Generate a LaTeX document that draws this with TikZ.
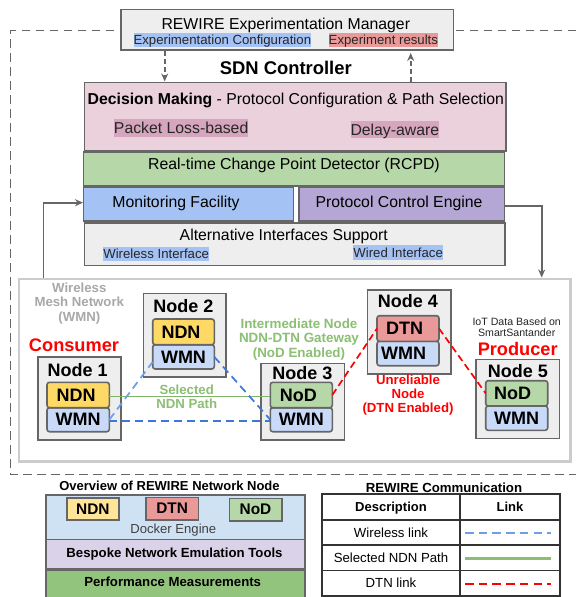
\documentclass[tikz,border=0pt]{standalone}
\usepackage{fontspec}
\usetikzlibrary{arrows.meta}
\setmainfont{Liberation Sans}
\definecolor{edge}{HTML}{666666}
\definecolor{lgray}{HTML}{EEEEEE}
\definecolor{hblue}{HTML}{A4C2F4}
\definecolor{hred}{HTML}{EA9999}
\definecolor{pinkb}{HTML}{EAD1DC}
\definecolor{pinkh}{HTML}{D5A6BD}
\definecolor{greenb}{HTML}{B6D7A8}
\definecolor{purpleb}{HTML}{B4A7D6}
\definecolor{wmnb}{HTML}{C9DAF8}
\definecolor{ndnb}{HTML}{FFD966}
\definecolor{ndns}{HTML}{FFE599}
\definecolor{dockerb}{HTML}{CFE2F3}
\definecolor{besp}{HTML}{D9D2E9}
\definecolor{perf}{HTML}{93C47D}
\definecolor{lblue}{HTML}{3C78D8}
\definecolor{lgreen}{HTML}{6AA84F}
\definecolor{lgrn}{HTML}{8BBF73}
\definecolor{lbl}{HTML}{6D9EEB}
\definecolor{txtg}{HTML}{A8A8A8}
\newcommand{\fs}[1]{\fontsize{#1}{#1}\selectfont}
% style, name, x1, y1, x2, y2, text
\newcommand{\bx}[7]{%
  \pgfmathsetmacro{\bw}{#5-#3}\pgfmathsetmacro{\bh}{#6-#4}%
  \pgfmathsetmacro{\bcx}{(#3+#5)/2}\pgfmathsetmacro{\bcy}{(#4+#6)/2}%
  \node[#1,minimum width=\bw pt,minimum height=\bh pt] (#2) at (\bcx,\bcy) {#7};}
\tikzset{
  x=1pt,y=-1pt,
  panel/.style={draw=edge,line width=1.6pt,inner sep=0pt,outer sep=0pt,font=\fs{15.8}},
  hl/.style={inner sep=0pt,outer sep=0pt,text=black!85,font=\fs{13.2},text height=11.2pt,text depth=2pt},
  hlbig/.style={inner sep=0pt,outer sep=0pt,text=black!85,font=\fs{15.8},text height=13.2pt,text depth=2pt},
  innerbox/.style={draw=edge,line width=1.6pt,rounded corners=2.5pt,inner sep=0pt,outer sep=0pt,font=\fs{18}\bfseries},
  nodebox/.style={draw=edge,line width=1.6pt,fill=lgray,inner sep=0pt,outer sep=0pt},
  nodelabel/.style={inner sep=0pt,font=\fs{18}\bfseries},
  manarrow/.style={draw=edge,line width=1.6pt,dash pattern=on 5pt off 3pt,-{Stealth[length=8pt,width=7pt]}},
  solidarrow/.style={draw=edge,line width=1.6pt,-{Stealth[length=8pt,width=7pt]}},
  wlink/.style={draw=lblue,line width=1.7pt,dash pattern=on 8pt off 5pt},
  dlink/.style={draw=red,line width=1.7pt,dash pattern=on 7pt off 4pt},
  slink/.style={draw=lgreen!85,line width=1.5pt},
  outerframe/.style={draw=edge,line width=1.5pt,dash pattern=on 8.5pt off 5.5pt},
  capt/.style={inner sep=0pt,align=center},
  cellbox/.style={draw=black!80,line width=1.4pt,inner sep=0pt,outer sep=0pt,font=\fs{13.2},text height=11.2pt,text depth=2pt},
}
\begin{document}
\begin{tikzpicture}
\useasboundingbox (0,0) rectangle (576,597);
\fill[white] (0,0) rectangle (576,597);
% dashed frame
\draw[outerframe] (576,30.7) -- (10.7,30.7) -- (10.7,474.7) -- (576,474.7);
% manager
\bx{panel,fill=lgray}{mgr}{120.7}{9.3}{453.3}{50}{}
\node[capt,font=\fs{15.8}] (mgrt) at (285.8,25) {REWIRE Experimentation Manager};
\bx{hl,fill=hblue}{conf}{134}{33.3}{310.7}{47.3}{Experimentation Configuration}
\bx{hl,fill=hred}{res}{329}{33.3}{437.7}{47.3}{Experiment results}
\node[capt,font=\fs{18.4}\bfseries] (sdn) at (285.8,68) {SDN Controller};
% stack
\bx{panel,fill=pinkb}{dec}{84.3}{82.3}{505.7}{150.7}{}
\node[capt,font=\fs{15.8}] (dect) at (295.8,100.5) {\textbf{Decision Making} - Protocol Configuration \& Path Selection};
\bx{hlbig,fill=pinkh}{pkt}{114}{119}{248.3}{136.7}{Packet Loss-based}
\bx{hlbig,fill=pinkh}{dly}{350.7}{121}{439}{138}{Delay-aware}
\bx{panel,fill=greenb}{rcpd}{83.3}{151.7}{504.3}{186}{}
\node[capt,font=\fs{15.8}] (rcpdt) at (294,165.5) {Real-time Change Point Detector (RCPD)};
\bx{panel,fill=hblue}{mon}{83.3}{186.8}{293.3}{221}{}
\node[capt,font=\fs{15.8}] (mont) at (176,203) {Monitoring Facility};
\bx{panel,fill=purpleb}{pce}{298.7}{186.8}{504.3}{221}{}
\node[capt,font=\fs{15.8}] (pcet) at (399,203) {Protocol Control Engine};
\bx{panel,fill=lgray}{alt}{84.3}{222.7}{505}{265.3}{}
\node[capt,font=\fs{15.8}] (altt) at (283.8,236) {Alternative Interfaces Support};
\bx{hl,fill=hblue}{wl}{103.3}{247}{209}{261.3}{Wireless Interface}
\bx{hl,fill=hblue}{wd}{353.7}{245.3}{442.7}{259.7}{Wired Interface}
% arrows manager
\coordinate (dn) at (164.7,51);
\coordinate (dnb) at (164.7,81.5);
\coordinate (up) at (410.7,81.5);
\coordinate (upb) at (410.7,53);
\draw[manarrow] (dn) -- (dnb);
\draw[manarrow] (up) -- (upb);
% big frame
\bx{draw=black!20,line width=2.8pt,fill=white,inner sep=0pt}{wmnframe}{19}{279}{570.5}{461.7}{}
\coordinate (fbl) at (43.3,277.5);
\coordinate (fbr) at (541.7,277.5);
\coordinate (mi) at (83,202.7);
\coordinate (pe) at (504.3,205.7);
\draw[solidarrow] (fbl) |- (mi);
\draw[solidarrow] (pe) -| (fbr);
\node[capt,font=\fs{13.2}\bfseries,text=txtg] (wmnt) at (79.3,303.3) {Wireless\\[1.1pt]Mesh Network\\[1.1pt](WMN)};
% nodes
\bx{nodebox}{n1}{37.7}{356.7}{121}{440}{}
\bx{nodebox}{n2}{143.3}{293.3}{226}{376.7}{}
\bx{nodebox}{n3}{261}{363.3}{344.3}{440}{}
\bx{nodebox}{n4}{367.3}{290}{450.7}{373.7}{}
\bx{nodebox}{n5}{476}{359.3}{559.3}{438.3}{}
\node[nodelabel] (n1t) at (77.7,369.8) {Node 1};
\node[nodelabel] (n2t) at (183.3,306.5) {Node 2};
\node[nodelabel] (n3t) at (302.3,372.8) {Node 3};
\node[nodelabel] (n4t) at (408,301.2) {Node 4};
\node[nodelabel] (n5t) at (518,371.2) {Node 5};
\bx{innerbox,fill=wmnb}{w1}{47}{407.7}{109.3}{431.7}{WMN}
\bx{innerbox,fill=ndnb}{a1}{47}{382.3}{109.3}{407.7}{\kern-4pt NDN}
\bx{innerbox,fill=wmnb}{w2}{152.7}{344.7}{214.3}{369}{WMN}
\bx{innerbox,fill=ndnb}{a2}{152.7}{319}{214.3}{344.7}{\kern-5pt NDN}
\bx{innerbox,fill=wmnb}{w3}{270.3}{407.7}{332.3}{431.7}{WMN}
\bx{innerbox,fill=greenb}{a3}{270.3}{382.3}{332.3}{407.7}{\kern-6pt NoD}
\bx{innerbox,fill=wmnb}{w4}{377}{341.3}{439}{365.7}{\kern-9pt WMN}
\bx{innerbox,fill=hred}{a4}{377}{315.7}{439}{341.3}{\kern-7pt DTN}
\bx{innerbox,fill=wmnb}{w5}{485.7}{406}{547.7}{430.3}{WMN}
\bx{innerbox,fill=greenb}{a5}{485.7}{380.7}{547.7}{406}{\kern-8pt NoD}
% links
\draw[slink] ([yshift=-1.5pt]a1.east) -- ([yshift=-1.5pt]a3.west);
\draw[wlink] ([yshift=-1.5pt]w1.east) -- ([yshift=-1.5pt]w3.west);
\draw[wlink,draw=lbl] (w1.east) -- ([yshift=-5pt]w2.west);
\draw[wlink] (w2.east) -- (w3.west);
\draw[dlink] (a3.east) -- (a4.west);
\draw[dlink] (a4.east) -- (a5.west);
% captions
\node[capt,font=\fs{18.2}\bfseries,text=red] (cons) at (74,345) {Consumer};
\node[capt,font=\fs{18.2}\bfseries,text=red] (prod) at (517.7,348.7) {Producer};
\node[capt,font=\fs{10.6},text=black!85] (iot) at (516.7,327.2) {IoT Data Based on\\[0.5pt]SmartSantander};
\node[capt,font=\fs{13.4}\bfseries,text=lgrn] (inter) at (299,339.3) {Intermediate Node\\[1pt]NDN-DTN Gateway\\[1pt](NoD Enabled)};
\node[capt,font=\fs{13.2}\bfseries,text=lgrn] (sel) at (186.7,397) {Selected\\[1.1pt]NDN Path};
\node[capt,font=\fs{13.2}\bfseries,text=red] (unr) at (408,395) {Unreliable\\[1.1pt]Node\\[1.1pt](DTN Enabled)};
% overview
\node[capt,font=\fs{13}\bfseries] (ovt) at (169.5,485.5) {Overview of REWIRE Network Node};
\bx{panel,fill=dockerb}{dock}{46}{495}{305}{539.5}{}
\bx{panel,fill=besp,font=\fs{13.2}\bfseries}{bes}{46}{539.5}{305}{568.7}{\kern-2pt Bespoke Network Emulation Tools}
\bx{panel,fill=perf}{per}{46}{570}{305}{600}{}
\node[capt,font=\fs{13.2}\bfseries] (pert) at (172.7,581.7) {Performance Measurements};
\node[capt,font=\fs{13.1},text=black!75] (dockt) at (173.3,530.5) {Docker Engine};
\bx{panel,fill=ndns,font=\fs{15.4}\bfseries}{sn}{66.7}{497.7}{119}{520}{NDN}
\bx{panel,fill=hred,font=\fs{15.4}\bfseries}{sd}{146}{497.3}{198.3}{520}{DTN}
\bx{panel,fill=greenb,font=\fs{15.4}\bfseries}{so}{229.3}{498.3}{281.7}{521}{NoD}
% table
\node[capt,font=\fs{13.2}\bfseries] (tt) at (444,488) {REWIRE Communication};
\bx{cellbox,font=\fs{13}\bfseries}{c11}{322}{494}{460}{520}{Description}
\bx{cellbox,font=\fs{13}\bfseries}{c12}{460}{494}{560}{520}{Link}
\bx{cellbox}{c21}{322}{520}{460}{545}{Wireless link}
\bx{cellbox}{c22}{460}{520}{560}{545}{}
\bx{cellbox}{c31}{322}{545}{460}{570.3}{Selected NDN Path}
\bx{cellbox}{c32}{460}{545}{560}{570.3}{}
\bx{cellbox}{c41}{322}{570.3}{460}{596}{DTN link}
\bx{cellbox}{c42}{460}{570.3}{560}{596}{}
\coordinate (l1a) at (465,532.7); \coordinate (l1b) at (551,532.7);
\coordinate (l2a) at (465,558); \coordinate (l2b) at (551,558);
\coordinate (l3a) at (465,584); \coordinate (l3b) at (551,584);
\draw[draw=lbl,line width=1.6pt,dash pattern=on 8.5pt off 5.2pt] (l1a) -- (l1b);
\draw[draw=lgrn,line width=3pt] (l2a) -- (l2b);
\draw[draw=red,line width=1.6pt,dash pattern=on 8.5pt off 5.2pt] (l3a) -- (l3b);
\end{tikzpicture}
\end{document}
